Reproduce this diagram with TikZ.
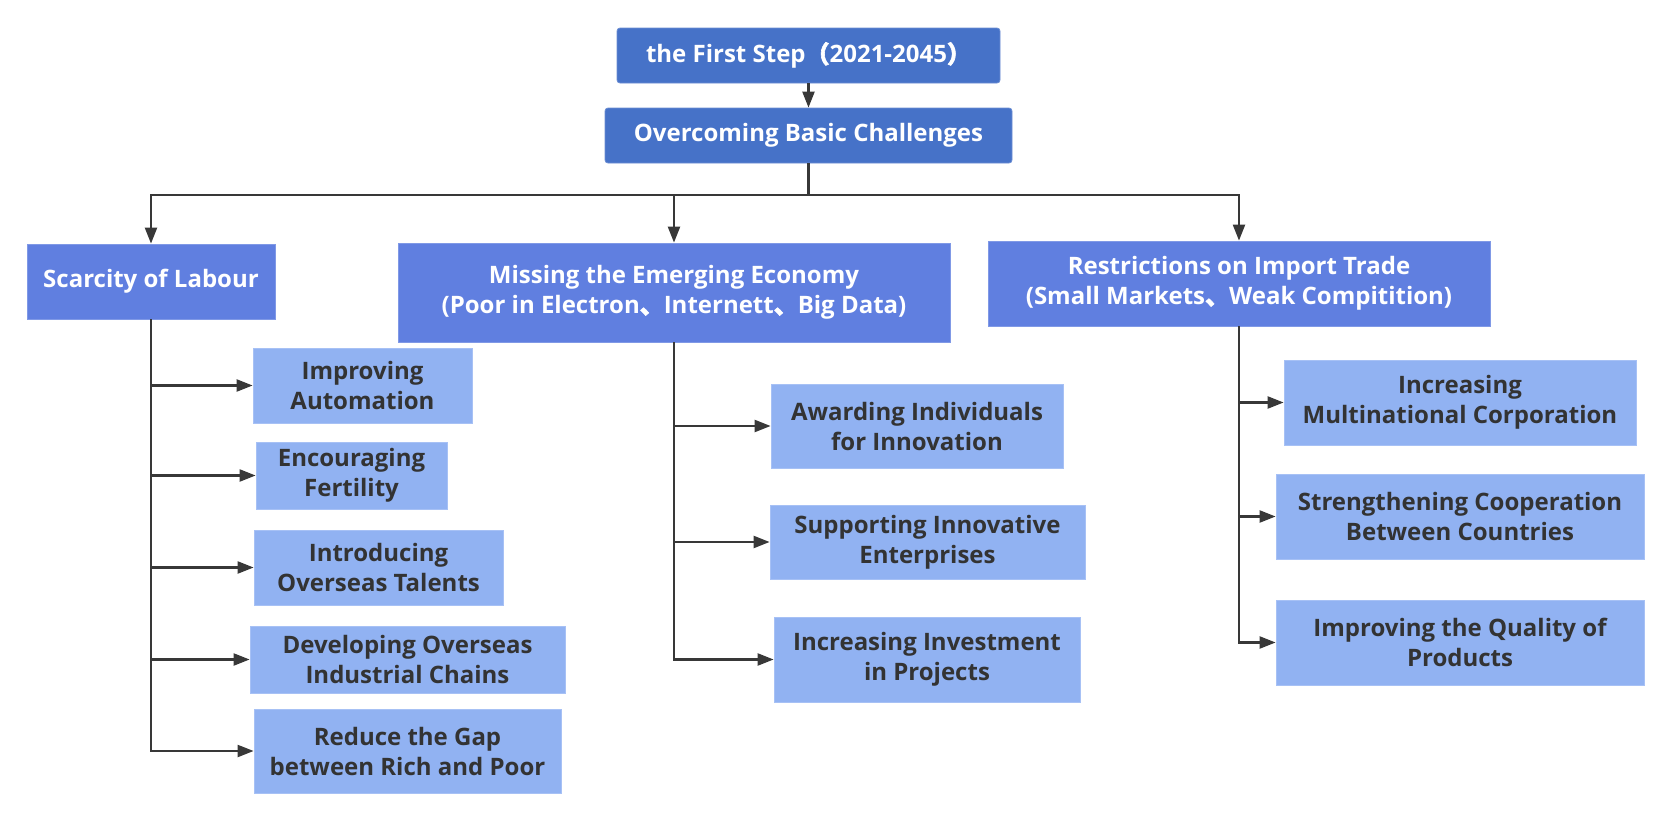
\documentclass[tikz,border=0pt]{standalone}
\usepackage{fontspec}
\setmainfont{Open Sans}
\newfontfamily\cjk{Noto Sans CJK SC}[FakeBold=2.5]
\usepackage{xcolor}
\usetikzlibrary{arrows.meta}

\definecolor{topblue}{HTML}{4672C8}
\definecolor{midblue}{HTML}{607FE0}
\definecolor{leafblue}{HTML}{91B2F2}
\definecolor{linegray}{HTML}{383838}
\definecolor{textgray}{HTML}{333333}

\begin{document}
\begin{tikzpicture}[x=1pt,y=-1pt,
    headbox/.style={fill=topblue, draw=topblue!80!white, line width=0.8pt, rounded corners=3pt,
        text=white, font=\bfseries\fontsize{24}{30}\selectfont, align=center, inner sep=0pt},
    issuebox/.style={headbox, fill=midblue, draw=midblue!80!white, rounded corners=0pt},
    leafbox/.style={fill=leafblue, draw=leafblue!80!white, line width=0.8pt,
        text=textgray, font=\bfseries\fontsize{24}{30}\selectfont, align=center, inner sep=0pt},
    trunk/.style={draw=linegray, line width=2.2pt},
    link/.style={trunk, -{Triangle[length=16pt,width=12pt]}}]
    \useasboundingbox (0,0) rectangle (1674,823);

    % Head
    \node[headbox, minimum width=383pt, minimum height=55pt] (first) at (808.5,55.5)
        {the First Step{\cjk （}2021-2045{\cjk ）}};
    \node[headbox, minimum width=407pt, minimum height=55pt] (basic) at (808.5,135.5)
        {Overcoming Basic Challenges};
    \draw[link] (first) -- (basic);

    % Challenges
    \node[issuebox, minimum width=248pt, minimum height=75pt] (labour) at (151,281.5)
        {Scarcity of Labour};
    \node[issuebox, minimum width=552pt, minimum height=99pt] (economy) at (674,292.5)
        {Missing the Emerging Economy\\(Poor in Electron{\cjk 、}Internett{\cjk 、}Big Data)};
    \node[issuebox, minimum width=502pt, minimum height=85pt] (trade) at (1239,283.5)
        {Restrictions on Import Trade\\(Small Markets{\cjk 、}Weak Compitition)};
    \coordinate (split) at (808.5,195);
    \draw[trunk] (basic) -- (split);
    \draw[link] (split) -| (labour);
    \draw[link] (split) -| (economy);
    \draw[link] (split) -| (trade);

    % Labour
    \node[leafbox, minimum width=219pt, minimum height=75pt] (l1) at (362.5,385.5) {Improving\\Automation};
    \node[leafbox, minimum width=191pt, minimum height=67pt] (l2) at (351.5,475.5) {Encouraging\\Fertility};
    \node[leafbox, minimum width=249pt, minimum height=75pt] (l3) at (378.5,567.5) {Introducing\\Overseas Talents};
    \node[leafbox, minimum width=315pt, minimum height=67pt] (l4) at (407.5,659.5) {Developing Overseas\\Industrial Chains};
    \node[leafbox, minimum width=307pt, minimum height=84pt] (l5) at (407.5,751) {Reduce the Gap\\between Rich and Poor};
    \draw[link] (labour) |- (l1);
    \draw[link] (labour) |- (l2);
    \draw[link] (labour) |- (l3);
    \draw[link] (labour) |- (l4);
    \draw[link] (labour) |- (l5);

    % Economy
    \node[leafbox, minimum width=292pt, minimum height=84pt] (e1) at (917,426) {Awarding Individuals\\for Innovation};
    \node[leafbox, minimum width=315pt, minimum height=74pt] (e2) at (927.5,542) {Supporting Innovative\\Enterprises};
    \node[leafbox, minimum width=306pt, minimum height=85pt] (e3) at (927,659.5) {Increasing Investment\\in Projects};
    \draw[link] (economy) |- (e1);
    \draw[link] (economy) |- (e2);
    \draw[link] (economy) |- (e3);

    % Trade
    \node[leafbox, minimum width=352pt, minimum height=85pt] (t1) at (1460,402.5) {Increasing\\Multinational Corporation};
    \node[leafbox, minimum width=368pt, minimum height=85pt] (t2) at (1460,516.5) {Strengthening Cooperation\\Between Countries};
    \node[leafbox, minimum width=368pt, minimum height=85pt] (t3) at (1460,642.5) {Improving the Quality of\\Products};
    \draw[link] (trade) |- (t1);
    \draw[link] (trade) |- (t2);
    \draw[link] (trade) |- (t3);
\end{tikzpicture}
\end{document}
